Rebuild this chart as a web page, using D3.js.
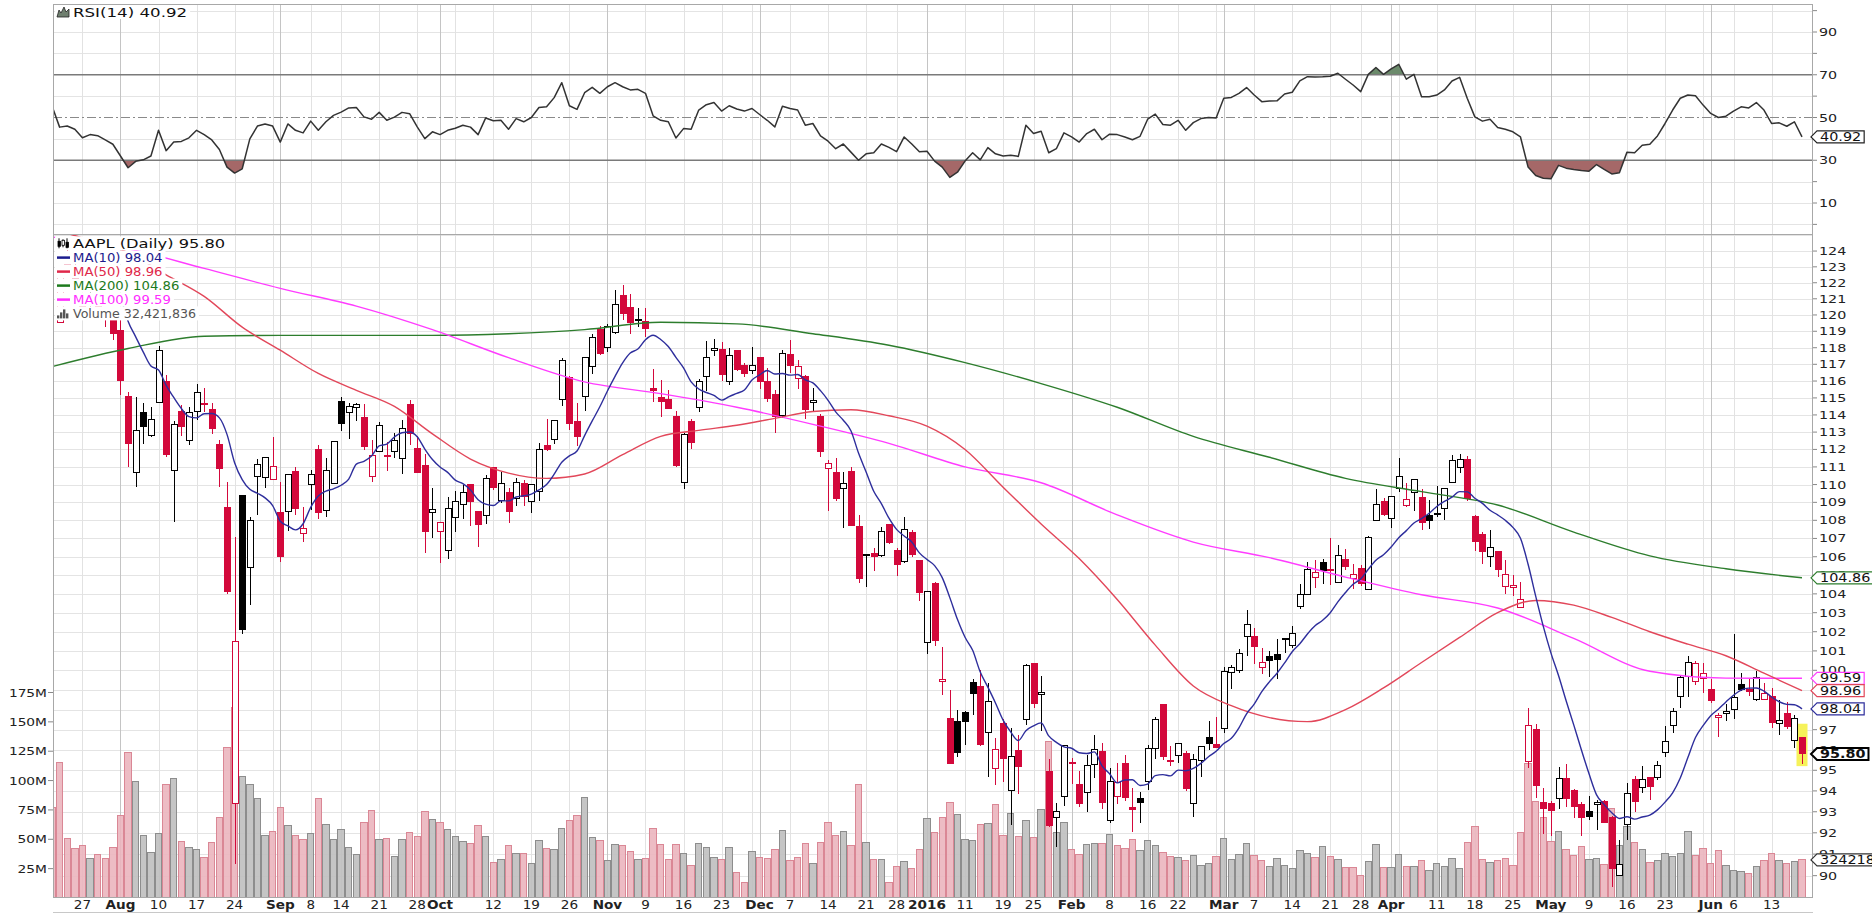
<!DOCTYPE html>
<html>
<head>
<meta charset="utf-8">
<script src="https://cdn.jsdelivr.net/npm/d3@7"></script>
<style>
  body { margin: 0; background: #fff; }
  svg { display: block; font-family: "DejaVu Sans", Verdana, sans-serif; }
</style>
</head>
<body>
<svg id="chart" width="1872" height="915"></svg>
<script>
// ---- data (AAPL daily, dividend adjusted as drawn) ----
const days = [
"2015-07-21","2015-07-22","2015-07-23","2015-07-24","2015-07-27","2015-07-28","2015-07-29","2015-07-30","2015-07-31",
"2015-08-03","2015-08-04","2015-08-05","2015-08-06","2015-08-07","2015-08-10","2015-08-11","2015-08-12","2015-08-13","2015-08-14",
"2015-08-17","2015-08-18","2015-08-19","2015-08-20","2015-08-21","2015-08-24","2015-08-25","2015-08-26","2015-08-27","2015-08-28","2015-08-31",
"2015-09-01","2015-09-02","2015-09-03","2015-09-04","2015-09-08","2015-09-09","2015-09-10","2015-09-11","2015-09-14","2015-09-15",
"2015-09-16","2015-09-17","2015-09-18","2015-09-21","2015-09-22","2015-09-23","2015-09-24","2015-09-25","2015-09-28","2015-09-29","2015-09-30",
"2015-10-01","2015-10-02","2015-10-05","2015-10-06","2015-10-07","2015-10-08","2015-10-09","2015-10-12","2015-10-13","2015-10-14",
"2015-10-15","2015-10-16","2015-10-19","2015-10-20","2015-10-21","2015-10-22","2015-10-23","2015-10-26","2015-10-27","2015-10-28","2015-10-29","2015-10-30",
"2015-11-02","2015-11-03","2015-11-04","2015-11-05","2015-11-06","2015-11-09","2015-11-10","2015-11-11","2015-11-12","2015-11-13",
"2015-11-16","2015-11-17","2015-11-18","2015-11-19","2015-11-20","2015-11-23","2015-11-24","2015-11-25","2015-11-27","2015-11-30",
"2015-12-01","2015-12-02","2015-12-03","2015-12-04","2015-12-07","2015-12-08","2015-12-09","2015-12-10","2015-12-11","2015-12-14",
"2015-12-15","2015-12-16","2015-12-17","2015-12-18","2015-12-21","2015-12-22","2015-12-23","2015-12-24","2015-12-28","2015-12-29","2015-12-30","2015-12-31",
"2016-01-04","2016-01-05","2016-01-06","2016-01-07","2016-01-08","2016-01-11","2016-01-12","2016-01-13","2016-01-14","2016-01-15",
"2016-01-19","2016-01-20","2016-01-21","2016-01-22","2016-01-25","2016-01-26","2016-01-27","2016-01-28","2016-01-29",
"2016-02-01","2016-02-02","2016-02-03","2016-02-04","2016-02-05","2016-02-08","2016-02-09","2016-02-10","2016-02-11","2016-02-12",
"2016-02-16","2016-02-17","2016-02-18","2016-02-19","2016-02-22","2016-02-23","2016-02-24","2016-02-25","2016-02-26","2016-02-29",
"2016-03-01","2016-03-02","2016-03-03","2016-03-04","2016-03-07","2016-03-08","2016-03-09","2016-03-10","2016-03-11","2016-03-14",
"2016-03-15","2016-03-16","2016-03-17","2016-03-18","2016-03-21","2016-03-22","2016-03-23","2016-03-24","2016-03-28","2016-03-29","2016-03-30","2016-03-31",
"2016-04-01","2016-04-04","2016-04-05","2016-04-06","2016-04-07","2016-04-08","2016-04-11","2016-04-12","2016-04-13","2016-04-14",
"2016-04-15","2016-04-18","2016-04-19","2016-04-20","2016-04-21","2016-04-22","2016-04-25","2016-04-26","2016-04-27","2016-04-28","2016-04-29",
"2016-05-02","2016-05-03","2016-05-04","2016-05-05","2016-05-06","2016-05-09","2016-05-10","2016-05-11","2016-05-12","2016-05-13",
"2016-05-16","2016-05-17","2016-05-18","2016-05-19","2016-05-20","2016-05-23","2016-05-24","2016-05-25","2016-05-26","2016-05-27","2016-05-31",
"2016-06-01","2016-06-02","2016-06-03","2016-06-06","2016-06-07","2016-06-08","2016-06-09","2016-06-10","2016-06-13","2016-06-14",
"2016-06-15","2016-06-16","2016-06-17"];

const opens = [
130.18,119.54,123.67,122.80,120.62,120.90,120.67,119.86,120.14,119.06,
115.06,110.68,114.16,112.79,114.71,115.97,110.77,114.23,112.54,114.23,
114.61,114.29,112.30,108.71,93.39,109.38,105.42,110.48,110.42,110.28,
108.43,108.51,110.73,107.27,110.01,111.99,108.55,110.05,114.76,114.12,
114.44,113.86,110.46,111.90,111.61,111.86,111.48,114.62,112.07,111.07,
108.45,107.37,106.32,108.17,108.90,110.00,108.47,108.28,110.97,109.09,
109.55,109.20,110.04,109.07,109.60,112.22,112.55,114.88,116.24,113.60,
115.11,116.85,119.10,118.00,118.91,121.21,120.46,119.73,119.58,115.57,
115.04,114.93,113.89,110.11,113.61,114.44,116.30,117.84,117.91,116.00,
117.85,116.94,116.64,117.40,116.00,115.22,113.98,117.62,116.18,116.30,
114.72,113.88,110.90,110.66,109.80,110.74,107.67,106.06,106.18,106.05,
107.76,106.36,105.74,107.34,105.79,101.44,104.54,99.41,97.55,97.43,
97.84,99.40,99.18,96.84,95.10,97.29,94.02,95.95,97.51,100.36,
98.79,94.95,92.72,93.71,95.37,94.33,93.92,95.28,95.94,92.57,
93.72,95.34,93.22,93.62,94.45,96.09,98.24,95.42,95.73,95.82,
93.41,95.47,96.61,96.27,97.06,99.90,99.97,101.75,101.77,100.17,
100.70,100.80,101.62,101.29,103.33,103.98,104.88,105.70,105.29,104.61,
105.84,104.83,105.36,104.26,107.99,109.06,108.12,109.75,108.85,109.56,
109.28,108.25,108.31,108.68,110.13,110.94,111.43,108.23,107.23,106.00,
106.28,104.37,104.36,103.28,95.42,97.02,93.42,93.40,93.63,94.62,
94.00,93.37,93.00,93.33,93.48,92.72,90.00,92.39,94.55,94.16,
94.64,94.64,95.87,97.22,98.67,99.68,99.44,99.60,99.02,97.60,
97.79,97.99,99.25,99.02,98.50,98.53,98.69,97.32,97.82,96.45,
96.62];

const highs = [
130.25,122.98,124.54,123.21,121.13,121.42,121.02,120.11,120.17,120.11,
115.33,115.08,114.68,114.44,118.12,116.34,113.62,114.58,114.49,115.81,
115.61,114.70,112.57,110.15,107.10,109.38,108.18,111.47,111.54,112.74,
110.13,110.59,111.02,108.73,110.80,112.24,111.51,112.43,115.07,114.71,
114.72,114.67,112.52,113.57,112.40,112.93,113.70,114.87,112.78,111.74,
109.80,107.91,109.28,109.63,110.00,110.03,108.47,110.53,110.99,110.70,
109.78,110.35,110.25,110.01,112.39,113.78,113.70,117.37,116.29,114.72,
117.44,118.81,119.33,119.47,121.56,121.89,121.29,120.42,120.42,116.72,
116.08,115.49,114.25,112.94,113.74,116.15,118.38,118.55,118.36,117.99,
117.87,117.06,118.05,117.46,116.76,115.46,117.89,118.49,117.25,116.35,
115.61,114.07,111.40,111.51,110.71,110.97,108.27,106.15,106.49,107.61,
107.76,106.46,108.18,107.46,105.81,104.17,104.64,101.20,98.99,97.98,
97.93,99.54,100.04,99.33,96.60,97.53,97.07,96.76,100.30,100.37,
99.73,95.53,93.44,96.23,95.61,94.95,95.74,96.74,96.33,95.12,
95.36,95.77,94.15,93.93,96.26,97.62,98.29,96.17,96.31,95.92,
95.80,96.17,97.43,97.64,100.16,100.28,101.09,103.12,102.21,101.14,
100.97,101.62,101.66,102.29,104.54,105.71,105.83,105.86,107.00,106.64,
106.42,105.61,105.55,107.14,109.75,109.24,109.33,111.51,110.06,110.31,
109.75,109.11,109.94,109.83,111.66,111.71,111.62,108.29,107.35,107.44,
106.28,105.84,105.01,104.66,98.11,97.29,94.15,93.51,95.16,95.32,
94.07,93.45,93.77,93.57,93.57,92.78,91.67,94.39,94.70,95.21,
94.64,95.43,97.19,98.09,99.74,100.73,100.47,100.40,99.54,97.84,
98.27,101.89,99.87,99.56,99.99,99.35,99.12,98.48,98.41,97.75,
96.65];

const lows = [
127.70,119.54,122.55,121.41,119.67,120.09,119.81,119.26,118.48,115.16,
110.97,109.85,112.34,112.71,114.71,111.56,107.92,112.75,112.23,113.70,
114.20,112.89,109.89,104.00,90.56,101.89,103.41,108.30,109.80,110.25,
105.69,107.43,108.32,106.82,108.60,108.06,108.19,110.02,113.07,112.63,
113.64,111.95,110.12,111.89,110.76,111.53,110.62,112.24,110.69,106.18,
107.03,105.64,105.87,107.37,108.06,107.70,106.52,107.78,109.70,108.95,
107.85,108.77,108.81,108.39,109.09,111.93,112.32,114.51,113.13,112.21,
114.25,116.42,117.59,117.74,118.82,119.72,118.81,119.24,118.68,114.74,
113.90,114.33,110.99,109.73,112.03,114.18,115.43,117.50,116.00,115.78,
116.58,116.26,116.41,115.53,114.76,112.92,113.80,116.47,115.53,113.77,
114.19,111.56,108.54,109.09,107.56,107.74,104.60,104.37,105.24,105.98,
106.72,104.97,105.64,105.96,103.62,100.84,101.24,98.73,95.33,95.66,
96.23,97.71,96.19,94.65,94.27,94.41,92.35,93.86,97.25,98.08,
96.95,92.28,91.34,93.27,94.31,93.21,93.01,94.61,93.12,92.48,
93.36,93.53,92.03,92.45,94.04,95.57,95.51,95.22,95.34,93.98,
92.76,94.67,96.00,96.07,96.83,99.04,99.84,100.76,100.35,99.79,
99.66,99.54,100.89,101.16,103.22,103.96,104.32,104.55,104.50,104.57,
105.26,104.26,104.42,104.25,107.94,108.22,107.55,109.60,108.76,108.54,
107.47,107.52,108.17,108.00,110.13,110.66,109.07,106.29,105.59,105.42,
104.88,103.99,103.88,103.28,95.10,93.68,91.95,91.84,93.11,93.25,
92.68,91.85,92.59,92.11,92.46,89.47,90.00,91.65,93.01,93.89,
93.57,94.52,95.67,96.84,98.11,98.64,99.25,98.82,98.33,96.63,
97.45,97.55,98.96,98.68,98.46,98.48,97.10,96.75,97.03,96.07,
95.30];

const closes = [
128.12,122.70,122.64,122.00,120.30,120.90,120.52,119.91,118.86,116.06,
112.34,113.08,113.33,113.72,117.85,111.72,113.44,113.35,114.15,115.33,
114.68,113.21,110.89,104.11,101.51,102.12,107.98,111.16,111.52,111.00,
106.04,110.59,108.65,107.57,110.56,108.43,110.81,112.43,113.51,114.47,
114.59,112.14,111.68,113.41,111.63,112.54,113.21,112.92,110.69,107.36,
108.58,107.87,108.66,109.05,109.57,109.05,107.79,110.37,109.86,110.05,
108.49,110.11,109.31,109.99,112.00,111.99,113.70,117.22,113.48,112.76,
117.41,118.65,117.64,119.29,120.66,120.10,119.54,119.68,119.20,115.44,
114.79,114.40,111.06,112.88,112.39,115.95,117.43,117.94,116.41,117.52,
116.68,116.47,116.95,116.00,114.95,113.89,117.67,116.93,116.88,114.30,
114.85,111.89,111.20,109.23,110.07,107.74,104.82,106.11,106.01,107.37,
106.80,105.60,107.50,106.10,104.06,104.15,101.54,99.55,95.35,95.85,
97.41,98.82,96.28,98.39,96.02,95.56,95.69,95.20,100.26,98.31,
98.85,92.35,93.02,96.23,95.33,93.40,95.25,96.02,93.45,94.44,
94.42,93.70,93.13,93.42,96.06,97.53,95.68,95.46,96.29,94.12,
95.52,96.17,96.32,96.11,99.92,100.14,100.89,102.39,101.25,100.42,
100.51,100.56,101.64,101.90,103.95,105.33,105.16,105.28,105.27,106.07,
105.49,105.03,104.55,107.03,108.90,108.33,109.32,110.45,109.15,110.29,
107.88,108.00,108.36,109.77,111.36,111.42,109.19,106.83,106.26,106.48,
105.33,105.04,104.44,103.72,97.23,94.26,93.17,93.07,94.60,93.62,
93.24,92.72,92.79,93.42,92.51,90.34,90.52,93.88,93.49,94.56,
94.20,95.22,96.43,97.90,99.62,100.41,100.35,99.86,98.46,97.72,
97.92,98.63,99.03,98.94,99.65,98.83,97.34,97.46,97.14,97.55,
95.80];
const closeBefore = 129.42; // close of the session before the first bar

// volume, millions of shares
const volumes = [
76.76,115.45,51.00,42.16,44.46,33.62,37.01,33.63,42.89,69.98,
124.14,99.31,52.90,38.67,54.95,97.08,101.69,48.54,42.93,40.88,
34.56,47.45,68.50,128.28,162.21,103.60,96.77,84.62,53.16,56.23,
76.85,61.89,53.23,50.00,54.84,85.01,62.89,49.92,58.36,43.34,
37.17,64.11,74.29,50.22,50.35,35.76,50.22,56.15,52.11,73.37,
66.47,63.93,58.02,52.06,48.20,46.77,61.98,52.77,30.47,33.05,
44.46,37.67,38.24,29.76,48.78,41.80,41.65,59.37,66.33,69.88,
85.55,51.23,49.37,32.20,45.52,44.89,39.55,33.04,33.87,59.13,
45.22,32.53,45.81,38.11,27.62,46.67,43.30,34.29,32.78,42.80,
21.39,13.05,39.18,34.85,33.39,41.57,57.78,32.08,34.31,46.36,
29.21,46.89,64.32,53.32,56.24,44.77,96.45,47.59,32.79,32.66,
13.60,26.70,30.93,25.21,40.91,67.65,55.79,68.46,81.09,70.80,
49.74,49.15,62.44,63.17,79.83,53.09,72.33,52.16,65.80,51.79,
75.08,133.37,55.68,64.42,40.94,37.36,45.96,46.47,46.42,54.02,
44.33,42.34,50.07,40.35,49.06,44.86,39.02,35.37,34.28,31.94,
36.26,27.58,28.99,35.22,50.41,33.17,36.96,46.06,35.83,31.56,
27.20,33.51,27.41,25.08,40.07,38.30,34.42,44.21,35.50,32.44,
25.70,26.13,19.41,31.19,45.60,25.89,25.87,37.36,26.58,26.40,
31.80,23.58,29.41,27.23,33.26,25.47,46.94,60.83,32.38,30.61,
31.55,33.68,28.03,56.02,114.60,82.24,68.53,48.16,56.83,41.03,
35.89,43.46,32.94,33.69,28.72,76.31,44.39,61.26,46.92,41.06,
30.44,32.03,38.02,35.14,38.17,56.33,36.23,42.31,29.17,40.19,
28.06,23.29,22.41,20.85,26.60,31.71,38.02,31.93,29.45,31.33,
32.42];
const lastVolume = 32421836;

const rsi14 = [
55.4,45.5,46,44.5,40.5,42,41.5,39.5,37.5,32,
26.5,29.5,30.2,32,44,34.5,38.5,38.8,40.5,44,
42,39.5,35,26.8,24,26,40,46,47,46,
38.5,47,44,42.8,48.3,44,48,51,52.5,54.5,
54.7,50.3,49.2,52.4,48.7,50.2,52.4,51.8,45.6,40.1,
43.3,42,44,45,46.4,45.5,42,49.8,48.5,48.7,
44.5,49.5,48,50,54.7,55,59.3,66.3,55.5,53.8,
61.6,64.1,61.3,64.4,66.3,64.4,62.9,63.2,61.3,50.8,
48.7,48,40.4,44.8,44.5,53.5,56,57,53,55.5,
54,53,54.2,51.4,48.7,45.6,55.3,54.2,53.5,46.4,
47.2,41.4,38.9,35.4,37.6,33.8,30,33,33.5,37.6,
36,34,40.9,37.6,34,34.2,29.6,26.8,22,24.4,
29.6,33.5,30.2,35.9,33,32,32.3,31.8,46.4,42.5,
43.6,33.5,35.4,42.8,40.9,38.5,42.5,44.5,39.6,42.2,
42,40.9,39.6,41.2,49.2,51.6,46.7,46.4,48.7,44,
47.6,49.5,50,49.8,59,59.4,61.3,64,60.5,57.4,
57.7,57.8,61,61.8,67.1,69.1,69,69.1,69.3,70.7,
67.9,65.2,62.1,70.2,73.4,70.2,72.7,74.9,67.9,70.2,
59.7,59.7,60.5,62.9,67.1,68.8,59,50.3,48.3,49.2,
45.3,44.5,43.3,40.9,26.8,22.9,21.6,21.3,27.6,26.3,
25.7,25.2,24.9,28,25.7,23.6,24.1,33.8,33.5,37,
37.5,41.4,47.2,53.5,59,60.5,60.2,55.8,51.9,50,
50.6,53,55,54.5,57,53.5,47.2,47.5,45.9,48,
40.92];

const ma10 = [
null,null,null,null,null,null,null,null,null,121.20,
119.62,118.66,117.73,116.90,116.66,115.74,115.03,114.38,113.90,113.83,
114.07,114.08,113.83,112.87,111.24,110.28,109.73,109.51,109.25,108.82,
107.95,107.69,107.47,107.81,108.72,109.35,109.63,109.76,109.96,110.31,
111.16,111.32,111.62,112.20,112.31,112.72,112.96,113.01,112.73,112.02,
111.42,110.99,110.69,110.25,110.05,109.70,109.15,108.90,108.82,109.09,
109.08,109.30,109.37,109.46,109.70,110.00,110.59,111.27,111.63,111.91,
112.80,113.65,114.48,115.41,116.28,117.09,117.68,117.92,118.49,118.76,
118.50,118.07,117.42,116.78,115.95,115.53,115.32,115.15,114.87,115.08,
115.27,115.47,116.06,116.37,116.63,116.42,116.45,116.35,116.39,116.07,
115.89,115.43,114.86,114.18,113.69,113.08,111.79,110.71,109.62,108.93,
108.12,107.50,107.13,106.81,106.21,105.85,105.52,104.87,103.80,102.65,
101.71,101.03,99.91,99.14,98.34,97.48,96.89,96.46,96.95,97.19,
97.34,96.69,96.37,96.15,96.08,95.86,95.82,95.90,95.22,94.83,
94.39,94.53,94.54,94.26,94.33,94.74,94.79,94.73,95.01,94.98,
95.09,95.34,95.66,95.93,96.31,96.57,97.09,97.79,98.28,98.91,
99.41,99.85,100.38,100.96,101.37,101.88,102.31,102.60,103.00,103.57,
104.07,104.51,104.80,105.32,105.81,106.11,106.53,107.04,107.43,107.85,
108.09,108.39,108.77,109.05,109.29,109.60,109.59,109.23,108.94,108.56,
108.30,108.00,107.61,107.01,105.59,103.88,102.28,100.90,99.73,98.45,
97.24,96.01,94.84,93.81,93.34,92.95,92.68,92.76,92.65,92.75,
92.84,93.09,93.46,93.91,94.62,95.62,96.61,97.20,97.70,98.02,
98.39,98.73,98.99,99.09,99.10,98.94,98.64,98.40,98.27,98.25,
98.04];

// longer averages, every few sessions
const ma50 = [
["2015-07-21",125.4],["2015-07-28",124.7],["2015-08-04",123.9],["2015-08-11",122.5],["2015-08-18",121.15],
["2015-08-25",119.25],["2015-09-01",117.85],["2015-09-09",116.45],["2015-09-16",115.45],["2015-09-23",114.5],
["2015-09-30",112.9],["2015-10-07",111.45],["2015-10-14",110.65],["2015-10-21",110.35],["2015-10-28",110.6],
["2015-11-04",111.7],["2015-11-11",112.75],["2015-11-18",113.1],["2015-11-25",113.4],["2015-12-03",113.8],
["2015-12-10",114.2],["2015-12-17",114.3],["2015-12-24",113.95],["2016-01-04",113.35],["2016-01-11",112.0],
["2016-01-19",109.85],["2016-01-26",107.8],["2016-02-02",105.9],["2016-02-09",103.7],["2016-02-17",101.3],
["2016-02-24",99.2],["2016-03-02",98.2],["2016-03-09",97.6],["2016-03-16",97.4],["2016-03-23",98.0],
["2016-03-31",99.1],["2016-04-07",100.4],["2016-04-14",101.7],["2016-04-21",103.0],["2016-04-28",103.65],
["2016-05-05",103.4],["2016-05-12",102.75],["2016-05-19",102.0],["2016-05-26",101.35],["2016-06-03",100.75],
["2016-06-10",99.85],["2016-06-17",98.96]];

const ma100 = [
["2015-07-21",124.9],["2015-08-04",124.15],["2015-08-18",122.9],["2015-09-01",121.65],["2015-09-16",120.55],
["2015-09-30",119.1],["2015-10-14",117.4],["2015-10-28",115.95],["2015-11-11",115.25],["2015-11-25",114.45],
["2015-12-10",113.45],["2015-12-24",112.35],["2016-01-11",111.0],["2016-01-26",110.1],["2016-02-09",108.3],
["2016-02-24",106.8],["2016-03-09",105.95],["2016-03-23",104.9],["2016-04-07",103.95],["2016-04-21",103.25],
["2016-05-05",101.65],["2016-05-19",99.95],["2016-06-03",99.6],["2016-06-17",99.59]];

const ma200 = [
["2015-07-21",116.86],["2015-08-04",117.95],["2015-08-18",118.7],["2015-09-01",118.75],["2015-09-16",118.75],
["2015-09-30",118.75],["2015-10-14",118.85],["2015-10-28",119.1],["2015-11-11",119.55],["2015-11-25",119.45],
["2015-12-10",118.85],["2015-12-24",118.15],["2016-01-11",117.1],["2016-01-26",115.85],["2016-02-09",114.45],
["2016-02-24",112.75],["2016-03-09",111.55],["2016-03-23",110.35],["2016-04-07",109.6],["2016-04-21",108.85],
["2016-05-05",107.35],["2016-05-19",106.05],["2016-06-03",105.35],["2016-06-17",104.86]];

const tickDays = ["2015-07-27","2015-08-03","2015-08-10","2015-08-17","2015-08-24","2015-08-31","2015-09-01","2015-09-08",
"2015-09-14","2015-09-21","2015-09-28","2015-10-01","2015-10-05","2015-10-12","2015-10-19","2015-10-26","2015-11-02",
"2015-11-09","2015-11-16","2015-11-23","2015-11-30","2015-12-01","2015-12-07","2015-12-14","2015-12-21","2015-12-28",
"2016-01-04","2016-01-11","2016-01-19","2016-01-25","2016-02-01","2016-02-08","2016-02-16","2016-02-22","2016-02-29",
"2016-03-01","2016-03-07","2016-03-14","2016-03-21","2016-03-28","2016-04-01","2016-04-04","2016-04-11","2016-04-18",
"2016-04-25","2016-05-02","2016-05-09","2016-05-16","2016-05-23","2016-05-31","2016-06-01","2016-06-06","2016-06-13"];
const tickLabels = ["27","Aug","10","17","24","","Sep","8","14","21","28","Oct","","12","19","26","Nov","9","16","23","",
"Dec","7","14","21","28","2016","11","19","25","Feb","8","16","22","","Mar","7","14","21","28","Apr","","11","18","25",
"May","9","16","23","","Jun","6","13"];

// 98 and 99 sit fully under the value tags, so they are not labelled
const priceTicks = d3.range(90, 125);
const priceLabels = priceTicks.filter(v => v !== 98 && v !== 99);
const rsiTicks = d3.range(0, 101, 10);
const rsiLabels = [10, 30, 50, 70, 90];
const volTicks = [25, 50, 75, 100, 125, 150, 175];

// ---- layout ----
const svg = d3.select("#chart");
const plotL = 53, plotR = 1813;
const rsiTop = 4, rsiBot = 234, priceTop = 234, priceBot = 897;
const red = "#d3083b";

const x = d3.scalePoint().domain(days).range([52, 1802]);
const y = d3.scaleLog().domain([89.02, 125.09]).range([priceBot, priceTop]);
const yR = d3.scaleLinear().domain([-4.5, 103.1]).range([rsiBot, rsiTop]);
const yV = d3.scaleLinear().domain([0, 175]).range([898, 692.5]);

// stretch text sideways, the source chart is a bit wider than tall
function fit(sel, k) {
  sel.each(function () {
    const w = this.getComputedTextLength();
    if (w > 0) d3.select(this).attr("textLength", (w * k).toFixed(1)).attr("lengthAdjust", "spacingAndGlyphs");
  });
  return sel;
}

const defs = svg.append("defs");
defs.append("clipPath").attr("id", "clipP").append("rect")
  .attr("x", plotL).attr("y", priceTop).attr("width", plotR - plotL).attr("height", priceBot - priceTop);
defs.append("clipPath").attr("id", "clipR").append("rect")
  .attr("x", plotL).attr("y", rsiTop).attr("width", plotR - plotL).attr("height", rsiBot - rsiTop);
defs.append("clipPath").attr("id", "clipHi").append("rect")
  .attr("x", plotL).attr("y", rsiTop).attr("width", plotR - plotL).attr("height", yR(70) - rsiTop);
defs.append("clipPath").attr("id", "clipLo").append("rect")
  .attr("x", plotL).attr("y", yR(30)).attr("width", plotR - plotL).attr("height", rsiBot - yR(30));

svg.append("rect").attr("width", 1872).attr("height", 915).attr("fill", "#fff");

// ---- grid ----
const grid = svg.append("g").attr("shape-rendering", "crispEdges");
grid.selectAll(".hp").data(d3.range(90, 126)).join("line")
  .attr("x1", plotL).attr("x2", plotR)
  .attr("y1", d => Math.round(y(d)) + 0.5).attr("y2", d => Math.round(y(d)) + 0.5)
  .attr("stroke", "#e4e4e4");
grid.selectAll(".hr").data(rsiTicks.filter(v => v !== 30 && v !== 50 && v !== 70)).join("line")
  .attr("x1", plotL).attr("x2", plotR)
  .attr("y1", d => Math.round(yR(d)) + 0.5).attr("y2", d => Math.round(yR(d)) + 0.5)
  .attr("stroke", "#e4e4e4");
const isMonth = l => l !== "" && isNaN(+l) || l === "2016";
[[rsiTop, rsiBot], [priceTop, priceBot]].forEach(([a, b]) => {
  grid.append("g").selectAll("line").data(tickDays).join("line")
    .attr("x1", d => Math.round(x(d)) + 0.5).attr("x2", d => Math.round(x(d)) + 0.5)
    .attr("y1", a).attr("y2", b)
    .attr("stroke", (d, i) => isMonth(tickLabels[i]) ? "#c4c4c4" : "#e2e2e2");
});

// ---- RSI panel ----
const rsiG = svg.append("g").attr("clip-path", "url(#clipR)");
const areaHi = d3.area().x((d, i) => x(days[i])).y0(yR(70)).y1(d => yR(d));
const areaLo = d3.area().x((d, i) => x(days[i])).y0(yR(30)).y1(d => yR(d));
rsiG.append("path").datum(rsi14).attr("d", areaHi).attr("fill", "#6b8a6b").attr("clip-path", "url(#clipHi)");
rsiG.append("path").datum(rsi14).attr("d", areaLo).attr("fill", "#a56868").attr("clip-path", "url(#clipLo)");
[70, 30].forEach(v => rsiG.append("line").attr("x1", plotL).attr("x2", plotR)
  .attr("y1", yR(v)).attr("y2", yR(v)).attr("stroke", "#7a7a7a").attr("stroke-width", 1.3));
rsiG.append("line").attr("x1", plotL).attr("x2", plotR).attr("y1", yR(50)).attr("y2", yR(50))
  .attr("stroke", "#8a8a8a").attr("stroke-width", 1.2).attr("stroke-dasharray", "9,3,2,3");
rsiG.append("path").datum(rsi14)
  .attr("d", d3.line().x((d, i) => x(days[i])).y(d => yR(d)))
  .attr("fill", "none").attr("stroke", "#333").attr("stroke-width", 1.5).attr("stroke-linejoin", "round");

// ---- volume ----
const prevClose = i => i === 0 ? closeBefore : closes[i - 1];
const isUp = i => closes[i] >= prevClose(i);
const priceG = svg.append("g").attr("clip-path", "url(#clipP)");
const bw = x.step() - 1.2;
priceG.append("g").attr("shape-rendering", "crispEdges").selectAll("rect").data(days).join("rect")
  .attr("x", d => x(d) - bw / 2).attr("width", bw)
  .attr("y", (d, i) => yV(volumes[i])).attr("height", (d, i) => yV(0) - yV(volumes[i]))
  .attr("fill", (d, i) => isUp(i) ? "#bfbfbf" : "#ebb5be")
  .attr("fill-opacity", 0.9)
  .attr("stroke", (d, i) => isUp(i) ? "#8d8d8d" : "#da8795");

// highlight on the last session
const lastDay = days[days.length - 1], li = days.length - 1;
priceG.append("rect")
  .attr("x", x(lastDay) - 5.5).attr("width", 11)
  .attr("y", y(highs[li]) - 13).attr("height", y(lows[li]) - y(highs[li]) + 15)
  .attr("fill", "#f6f25a");

// ---- candles ----
const candles = priceG.append("g").attr("shape-rendering", "crispEdges")
  .selectAll("g").data(days).join("g");
const col = i => isUp(i) ? "#000" : red;
candles.append("line")
  .attr("x1", d => Math.round(x(d)) + 0.5).attr("x2", d => Math.round(x(d)) + 0.5)
  .attr("y1", (d, i) => y(highs[i])).attr("y2", (d, i) => y(lows[i]))
  .attr("stroke", (d, i) => col(i));
candles.append("rect")
  .attr("x", d => Math.round(x(d)) - 2.5).attr("width", 6)
  .attr("y", (d, i) => y(Math.max(opens[i], closes[i])))
  .attr("height", (d, i) => Math.max(1, Math.abs(y(opens[i]) - y(closes[i]))))
  .attr("fill", (d, i) => closes[i] > opens[i] ? "#fff" : col(i))
  .attr("stroke", (d, i) => col(i));

// ---- moving averages ----
const maLine = d3.line().defined(d => d[1] != null).x(d => x(d[0])).y(d => y(d[1])).curve(d3.curveMonotoneX);
const maSets = [
  [ma200, "#2d7d2d"],
  [ma100, "#ff3cff"],
  [ma50, "#e2475a"],
  [days.map((d, i) => [d, ma10[i]]), "#2e2e9c"]
];
maSets.forEach(([data, c]) => priceG.append("path").datum(data).attr("d", maLine)
  .attr("fill", "none").attr("stroke", c).attr("stroke-width", 1.4));

// ---- frames ----
svg.append("rect").attr("x", plotL + 0.5).attr("y", rsiTop + 0.5).attr("width", plotR - plotL - 1)
  .attr("height", rsiBot - rsiTop).attr("fill", "none").attr("stroke", "#a8a8a8");
svg.append("rect").attr("x", plotL + 0.5).attr("y", priceTop + 0.5).attr("width", plotR - plotL - 1)
  .attr("height", priceBot - priceTop).attr("fill", "none").attr("stroke", "#a8a8a8");
svg.append("line").attr("x1", plotL).attr("x2", plotR).attr("y1", 912.5).attr("y2", 912.5).attr("stroke", "#c8c8c8");

// ---- axes ----
const axG = svg.append("g").attr("fill", "#222").attr("font-size", 11);
axG.selectAll(".pt").data(priceTicks).join("line")
  .attr("x1", plotR).attr("x2", plotR + 4).attr("y1", d => y(d)).attr("y2", d => y(d)).attr("stroke", "#888");
fit(axG.selectAll(".pl").data(priceLabels).join("text")
  .attr("x", plotR + 6).attr("y", d => y(d) + 4).text(d => d), 1.3);
axG.selectAll(".rt").data(rsiTicks).join("line")
  .attr("x1", plotR).attr("x2", plotR + 4).attr("y1", d => yR(d)).attr("y2", d => yR(d)).attr("stroke", "#888");
fit(axG.selectAll(".rl").data(rsiLabels).join("text")
  .attr("x", plotR + 6).attr("y", d => yR(d) + 4).text(d => d), 1.3);
axG.selectAll(".vt").data(volTicks).join("line")
  .attr("x1", plotL - 5).attr("x2", plotL).attr("y1", d => yV(d)).attr("y2", d => yV(d)).attr("stroke", "#888");
fit(axG.selectAll(".vl").data(volTicks).join("text")
  .attr("x", plotL - 6).attr("y", d => yV(d) + 4).attr("text-anchor", "end").text(d => d + "M"), 1.25);
fit(axG.selectAll(".xl").data(tickDays.filter((d, i) => tickLabels[i] !== "")).join("text")
  .attr("x", d => x(d)).attr("y", 909).attr("text-anchor", "middle").attr("font-size", 11.5)
  .attr("font-weight", d => isMonth(tickLabels[tickDays.indexOf(d)]) ? "bold" : null)
  .text(d => tickLabels[tickDays.indexOf(d)]), 1.18);

// ---- value tags on the right ----
function tag(yy, label, stroke, bold) {
  const g = svg.append("g");
  const t = g.append("text").attr("x", 1820).attr("y", yy + 4).attr("font-size", 11.5)
    .attr("font-weight", bold ? "bold" : null).attr("fill", "#111").text(label);
  const w = t.node().getComputedTextLength() * 1.25;
  fit(t, 1.25);
  const x2 = 1820 + w + 3;
  g.insert("path", "text")
    .attr("d", `M1811,${yy}L1817,${yy - 6}L${x2},${yy - 6}L${x2},${yy + 6}L1817,${yy + 6}Z`)
    .attr("fill", "#fff").attr("stroke", stroke).attr("stroke-width", bold ? 2 : 1.2);
}
const last = a => a[a.length - 1][1];
tag(yR(rsi14[li]), rsi14[li].toFixed(2), "#222", false);
tag(y(last(ma200)), last(ma200).toFixed(2), "#2d7d2d", false);
tag(y(last(ma100)), last(ma100).toFixed(2), "#ff3cff", false);
tag(y(last(ma50)), last(ma50).toFixed(2), "#e2475a", false);
tag(y(ma10[li]), ma10[li].toFixed(2), "#2e2e9c", false);
tag(y(closes[li]), closes[li].toFixed(2), "#000", true);
tag(yV(volumes[li]), String(lastVolume), "#333", false);

// ---- legends ----
function legendRow(yc, label, color, size, k, icon) {
  const g = svg.append("g");
  const bg = g.append("rect").attr("x", 55).attr("y", yc - 7).attr("height", 14).attr("fill", "#fff");
  icon(g, yc);
  const t = g.append("text").attr("x", 73).attr("y", yc + 4.5).attr("font-size", size)
    .attr("fill", color).text(label);
  const w = t.node().getComputedTextLength() * k;
  fit(t, k);
  bg.attr("width", 73 + w + 3 - 55);
}
const dash = c => (g, yc) => g.append("line").attr("x1", 57).attr("x2", 70)
  .attr("y1", yc).attr("y2", yc).attr("stroke", c).attr("stroke-width", 2.5);
const mountIcon = (g, yc) => g.append("path")
  .attr("d", `M57,${yc + 5}L59,${yc - 2}L61,${yc + 1}L64,${yc - 5}L66,${yc}L69,${yc - 3}L69,${yc + 5}Z`)
  .attr("fill", "#6f7f6f").attr("stroke", "#222").attr("stroke-width", 0.8);
const candleIcon = (g, yc) => {
  [[58, -5, 5, -2, 3, "#000"], [62, -4, 4, -3, 2, "#fff"], [66, -5, 5, -1, 4, "#000"]].forEach(([cx, hi, lo, b0, b1, f]) => {
    g.append("line").attr("x1", cx + 1).attr("x2", cx + 1).attr("y1", yc + hi).attr("y2", yc + lo).attr("stroke", "#000");
    g.append("rect").attr("x", cx).attr("y", yc + b0).attr("width", 2.5).attr("height", b1 - b0)
      .attr("fill", f).attr("stroke", "#000").attr("stroke-width", 0.8);
  });
};
const barIcon = (g, yc) => [[57, 3], [60, 6], [63, 9], [66, 5]].forEach(([bx, h]) =>
  g.append("rect").attr("x", bx).attr("y", yc + 5 - h).attr("width", 2.4).attr("height", h).attr("fill", "#555"));

legendRow(12, "RSI(14) " + rsi14[li].toFixed(2), "#111", 13, 1.28, mountIcon);
legendRow(243.3, "AAPL (Daily) " + closes[li].toFixed(2), "#111", 12.5, 1.3, candleIcon);
legendRow(257.6, "MA(10) " + ma10[li].toFixed(2), "#1c1c8e", 12, 1.1, dash("#1c1c8e"));
legendRow(271.6, "MA(50) " + last(ma50).toFixed(2), "#e0284a", 12, 1.1, dash("#e0284a"));
legendRow(285.6, "MA(200) " + last(ma200).toFixed(2), "#1d7a1d", 12, 1.1, dash("#1d7a1d"));
legendRow(299.6, "MA(100) " + last(ma100).toFixed(2), "#ff2cff", 12, 1.1, dash("#ff2cff"));
legendRow(313.4, "Volume " + d3.format(",")(lastVolume), "#555", 12, 1.05, barIcon);
</script>
</body>
</html>
